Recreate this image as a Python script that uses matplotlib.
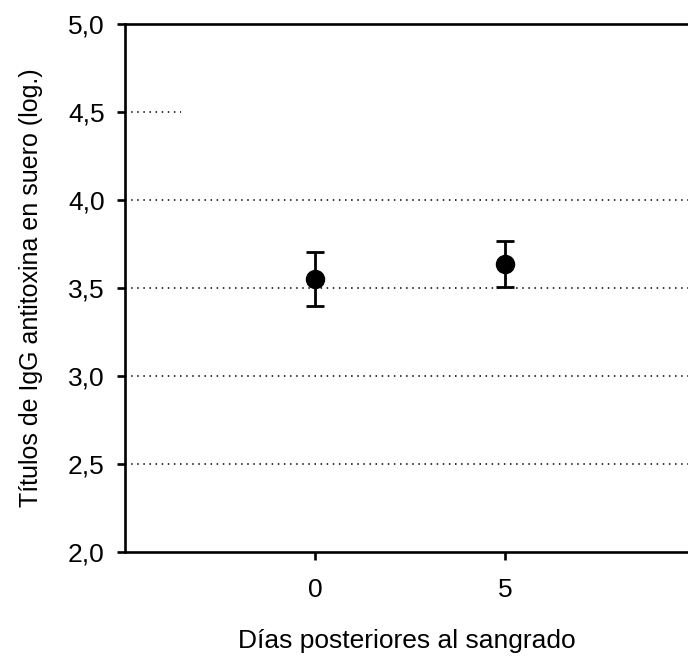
import matplotlib
matplotlib.use("Agg")
import matplotlib.pyplot as plt

days = [0, 5]
means = [3.55, 3.635]
errs = [0.153, 0.13]
yticks = [2.0, 2.5, 3.0, 3.5, 4.0, 4.5, 5.0]
ytick_labels = ["2,0", "2,5", "3,0", "3,5", "4,0", "4,5", "5,0"]
xticks = [0, 5]
grid_full = [2.5, 3.0, 3.5, 4.0]
grid_partial = [4.5]

plt.rcParams['font.family'] = ['Liberation Sans', 'DejaVu Sans']

fig = plt.figure(figsize=(6.88, 6.62), dpi=100)
ax = fig.add_axes([125/688, 1 - 552/662, 1 - 125/688, (552 - 24)/662])

ax.set_xlim(-5, 9.8)
ax.set_ylim(2.0, 5.0)

for g in grid_full:
    ax.axhline(g, color='black', linestyle=(0, (1, 3)), linewidth=1.1, zorder=1)
for g in grid_partial:
    ax.axhline(g, xmin=0, xmax=0.1, color='black', linestyle=(0, (1, 3)), linewidth=1.1, zorder=1)

ax.errorbar(days, means, yerr=errs, fmt='o', color='black', markersize=13,
            capsize=6.2, elinewidth=2.0, capthick=2.0, zorder=3)

ax.set_yticks(yticks)
ax.set_yticklabels(ytick_labels)
ax.set_xticks(xticks)

for side in ['left', 'top', 'bottom']:
    ax.spines[side].set_linewidth(1.9)
ax.spines['right'].set_visible(False)

ax.tick_params(axis='both', direction='out', length=5.5, width=1.9, labelsize=19)
ax.tick_params(axis='y', pad=9)
ax.tick_params(axis='x', pad=13)

ax.set_xlabel("Días posteriores al sangrado", fontsize=19, labelpad=20)
ax.set_ylabel("Títulos de IgG antitoxina en suero (log.)", fontsize=18, labelpad=18)

fig.savefig("out.png", dpi=100)
